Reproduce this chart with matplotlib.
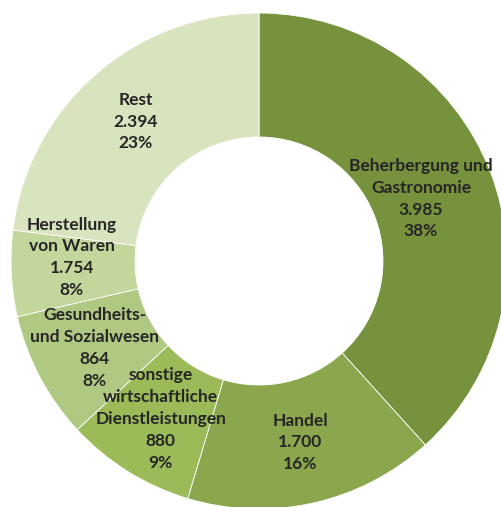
import matplotlib.pyplot as plt
import numpy as np

# slice sizes as drawn (Herstellung slice is drawn ~5.6% although labelled 1.754 / 8%)
categories = ["Beherbergung und\nGastronomie", "Handel",
              "sonstige\nwirtschaftliche\nDienstleistungen",
              "Gesundheits-\nund Sozialwesen", "Herstellung\nvon Waren", "Rest"]
values = [3985, 1700, 880, 864, 582, 2394]
value_labels = ["3.985", "1.700", "880", "864", "1.754", "2.394"]
pct_labels = ["38%", "16%", "9%", "8%", "8%", "23%"]

colors = ["#76923C", "#8AA74E", "#9BBB59", "#B0C982", "#C3D69B", "#D7E4BD"]
label_r = [0.70, 0.75, 0.75, 0.75, 0.755, 0.75]
label_dtheta = [0, 0, 0, 0, -4, 0]

plt.rcParams['font.family'] = ['Lato', 'DejaVu Sans']

fig = plt.figure(figsize=(5.01, 5.07), dpi=100)
ax = fig.add_axes([0, 0, 1, 1])

R = 248.0
cx, cy = 259.0, 261.0

wedges, _ = ax.pie(values, colors=colors, startangle=90, counterclock=False,
                   radius=1.0, wedgeprops=dict(width=0.5, edgecolor="white", linewidth=0.6))
ax.set_aspect("auto")
ax.set_xlim(-cx / R, (501 - cx) / R)
ax.set_ylim(-(507 - cy) / R, cy / R)
ax.axis("off")

for w, cat, v, p, r, dt in zip(wedges, categories, value_labels, pct_labels, label_r, label_dtheta):
    mid = np.deg2rad((w.theta1 + w.theta2) / 2 + dt)
    ax.text(r * np.cos(mid), r * np.sin(mid), f"{cat}\n{v}\n{p}",
            ha="center", va="center", fontsize=12.5, fontweight="bold",
            color="#262626", linespacing=1.45)

fig.savefig("out.png", dpi=100)
